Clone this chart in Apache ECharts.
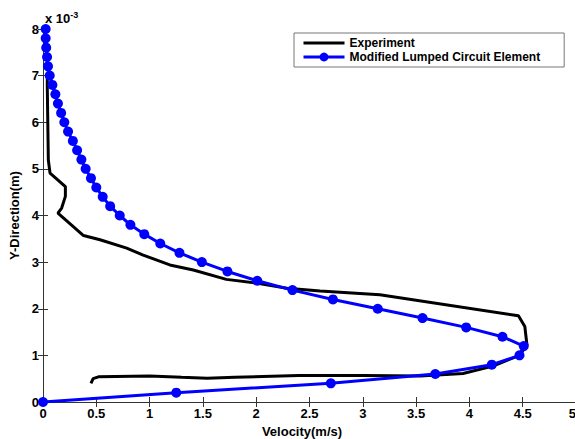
<!DOCTYPE html>
<html>
<head>
<meta charset="utf-8">
<script src="https://cdn.jsdelivr.net/npm/echarts@6/dist/echarts.min.js"></script>
<style>
html,body{margin:0;padding:0;background:#fff;}
#c{width:575px;height:439px;}
</style>
</head>
<body>
<div id="c"></div>
<script>
// Velocity (m/s) vs Y-direction (units of 1e-3 m)
const xTicks = [0,0.5,1,1.5,2,2.5,3,3.5,4,4.5,5];
const yTicks = [0,1,2,3,4,5,6,7,8];

const expVelocity = [0.45,0.47,0.52,1.0,1.3,1.54,1.8,2.4,3.0,3.54,3.94,4.22,4.47,4.54,4.52,4.46,3.16,2.60,2.29,2.0,1.72,1.41,1.19,0.94,0.785,0.535,0.38,0.14,0.175,0.21,0.21,0.066,0.05,0.04,0.04];
const expY =        [0.40,0.50,0.54,0.56,0.53,0.51,0.53,0.57,0.57,0.56,0.61,0.77,1.0,1.22,1.62,1.85,2.30,2.38,2.44,2.55,2.63,2.83,2.94,3.15,3.30,3.48,3.57,4.05,4.16,4.41,4.62,4.91,5.19,6.8,6.95];

const mlceY = [0,0.2,0.4,0.6,0.8,1.0,1.2,1.4,1.6,1.8,2.0,2.2,2.4,2.6,2.8,3.0,3.2,3.4,3.6,3.8,4.0,4.2,4.4,4.6,4.8,5.0,5.2,5.4,5.6,5.8,6.0,6.2,6.4,6.6,6.8,7.0,7.2,7.4,7.6,7.8,8.0];
const mlceVelocity = [0,1.25,2.70,3.68,4.21,4.47,4.51,4.31,3.97,3.56,3.14,2.72,2.34,2.01,1.73,1.49,1.28,1.10,0.95,0.82,0.72,0.63,0.56,0.50,0.45,0.40,0.36,0.32,0.28,0.235,0.20,0.17,0.14,0.116,0.088,0.063,0.047,0.038,0.03,0.025,0.025];

const seriesNames = ['Experiment','Modified Lumped Circuit Element'];

const FONT = '"Liberation Sans", Arial, sans-serif';
const axisCol = '#333';

const chart = echarts.init(document.getElementById('c'), null, {renderer:'svg'});
const pairs = (xs, ys) => xs.map((v,i)=>[v, ys[i]]);

const baseX = {
  type:'value', min:0, max:5, interval:0.5,
  axisLine:{show:true, lineStyle:{color:axisCol, width:1}},
  axisTick:{show:true, inside:true, length:5, lineStyle:{color:axisCol}},
  splitLine:{show:false}
};
const baseY = {
  type:'value', min:0, max:8, interval:1,
  axisLine:{show:true, lineStyle:{color:axisCol, width:1}},
  axisTick:{show:true, inside:true, length:5, lineStyle:{color:axisCol}},
  splitLine:{show:false}
};

chart.setOption({
  animation:false,
  backgroundColor:'#fff',
  grid:{left:43, top:29, width:533, height:373, containLabel:false, outerBoundsMode:'none'},
  xAxis:[
    Object.assign({}, baseX, {
      position:'bottom',
      name:'Velocity(m/s)', nameLocation:'middle', nameGap:16,
      nameTextStyle:{fontFamily:FONT, fontWeight:'bold', fontSize:13, color:'#000', padding:[0,15,0,0]},
      axisLabel:{fontFamily:FONT, fontWeight:'bold', fontSize:13, color:'#000', margin:5,
        alignMaxLabel:'right',
        formatter:v=>String(+v.toFixed(1))}
    }),
    Object.assign({}, baseX, {position:'top', axisLabel:{show:false}})
  ],
  yAxis:[
    Object.assign({}, baseY, {
      position:'left',
      name:'Y-Direction(m)', nameLocation:'middle', nameGap:14,
      nameTextStyle:{fontFamily:FONT, fontWeight:'bold', fontSize:13, color:'#000'},
      axisLabel:{fontFamily:FONT, fontWeight:'bold', fontSize:13, color:'#000', margin:4}
    }),
    Object.assign({}, baseY, {position:'right', axisLabel:{show:false}})
  ],
  legend:{
    orient:'vertical', left:294, top:33,
    padding:[3,24,3,8], itemGap:0,
    itemWidth:41, itemHeight:11,
    borderColor:'#777', borderWidth:1, backgroundColor:'#fff',
    lineStyle:{width:3},
    textStyle:{fontFamily:FONT, fontWeight:'bold', fontSize:12, lineHeight:14, color:'#000'},
    data:[
      {name:seriesNames[0], itemStyle:{color:'rgba(0,0,0,0)', opacity:0, borderWidth:0}},
      {name:seriesNames[1]}
    ]
  },
  graphic:[{
    type:'text', left:45, top:10,
    style:{
      text:'{a|x 10}{b|-3}',
      rich:{
        a:{fontFamily:FONT, fontWeight:'bold', fontSize:13, fill:'#000', verticalAlign:'bottom'},
        b:{fontFamily:FONT, fontWeight:'bold', fontSize:9, fill:'#000', verticalAlign:'top', padding:[0,0,6,0]}
      }
    }
  }],
  series:[
    {
      name:seriesNames[0], type:'line', xAxisIndex:0, yAxisIndex:0,
      data:pairs(expVelocity, expY),
      showSymbol:false, symbol:'none', smooth:false,
      lineStyle:{color:'#000', width:3}, itemStyle:{color:'#000'}, z:2
    },
    {
      name:seriesNames[1], type:'line', xAxisIndex:0, yAxisIndex:0,
      data:pairs(mlceVelocity, mlceY),
      symbol:'circle', symbolSize:10, showAllSymbol:true,
      lineStyle:{color:'#0000ff', width:3}, itemStyle:{color:'#0000ff'}, z:3
    }
  ]
});
</script>
</body>
</html>
